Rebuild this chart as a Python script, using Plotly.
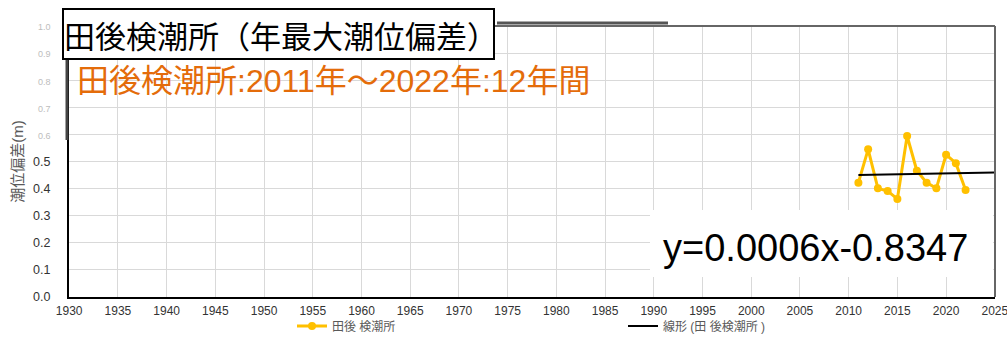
import plotly.graph_objects as go

# 田後検潮所 annual maximum tide deviation (m)
years = [2011, 2012, 2013, 2014, 2015, 2016, 2017, 2018, 2019, 2020, 2021, 2022]
deviation = [0.422, 0.545, 0.401, 0.391, 0.362, 0.594, 0.466, 0.422, 0.401, 0.525, 0.494, 0.395]

# linear trend (extended forward to 2025)
trend_slope = 0.000639
trend_intercept = -0.8347
trend_years = [2011, 2025]

x_ticks = list(range(1930, 2030, 5))
y_ticks = [0.0, 0.1, 0.2, 0.3, 0.4, 0.5, 0.6, 0.7, 0.8, 0.9, 1.0]
y_tick_labels = ["0.0", "0.1", "0.2", "0.3", "0.4", "0.5", "0.6", "0.7", "0.8", "0.9", "1.0"]

series_name = "田後 検潮所"
trend_name = "線形 (田 後検潮所 )"
title_text = "田後検潮所（年最大潮位偏差）"
period_text = "田後検潮所:2011年～2022年:12年間"
y_title = "潮位偏差(m)"

JP = "Liberation Sans, Noto Sans CJK JP, sans-serif"
ORANGE = "#FFC000"

trend_values = [trend_slope * yr + trend_intercept for yr in trend_years]
equation_text = f"y={trend_slope:.4f}x{trend_intercept:+.4f}"

# the upper tick labels are printed faint
faint = {"0.6", "0.7", "0.8", "0.9", "1.0"}
tick_text = [
    f"<span style='color:#bdbdbd;font-size:9px'>{t}</span>" if t in faint else t
    for t in y_tick_labels
]

fig = go.Figure()
fig.add_trace(go.Scatter(
    x=years, y=deviation, mode="lines+markers", name=series_name,
    line=dict(color=ORANGE, width=3),
    marker=dict(color=ORANGE, size=8),
))
fig.add_trace(go.Scatter(
    x=trend_years, y=trend_values, mode="lines", name=trend_name,
    line=dict(color="black", width=2),
))

W, H = 1007, 337
L, R, T, B = 69, 12, 26, 40
pw, ph = W - L - R, H - T - B


def px(x):
    return (x - L) / pw


def py(y):
    return (H - B - y) / ph


fig.update_layout(
    width=W, height=H,
    margin=dict(l=L, r=R, t=T, b=B, autoexpand=False),
    paper_bgcolor="white", plot_bgcolor="white",
    font=dict(family=JP, size=12, color="#404040"),
    showlegend=True,
    legend=dict(
        orientation="h", x=292 / W, xanchor="left", xref="container",
        y=1 - 326 / H, yanchor="middle", yref="container",
        font=dict(size=12, color="#595959", family=JP),
        entrywidth=286, entrywidthmode="pixels", itemwidth=30,
        bgcolor="rgba(0,0,0,0)",
    ),
    xaxis=dict(
        range=[1929.98, 2025.02], tickvals=x_ticks, ticktext=[str(v) for v in x_ticks],
        showgrid=True, gridcolor="#d9d9d9", gridwidth=1,
        showline=True, linecolor="black", linewidth=2,
        ticks="outside", ticklen=2, tickcolor="rgba(0,0,0,0)",
        tickfont=dict(size=12, color="#333333"),
        ticklabeloverflow="allow",
        zeroline=False, automargin=False,
    ),
    yaxis=dict(
        range=[0, 1.0], tickvals=y_ticks, ticktext=tick_text,
        showgrid=True, gridcolor="#d9d9d9", gridwidth=1,
        showline=True, linecolor="black", linewidth=2,
        ticks="outside", ticklen=14, tickcolor="rgba(0,0,0,0)",
        tickfont=dict(size=12.5, color="#333333"),
        ticklabeloverflow="allow",
        zeroline=False, automargin=False,
        title=dict(text=y_title, font=dict(size=15, color="#595959", family=JP), standoff=6),
    ),
)

# white panel holding the trend equation, then the frame on top
fig.add_shape(type="rect", xref="paper", yref="paper",
              x0=px(650), x1=px(993), y0=py(277), y1=py(210),
              fillcolor="white", line=dict(width=0), layer="above")
fig.add_shape(type="line", xref="paper", yref="paper",
              x0=0, x1=1, y0=1, y1=1, line=dict(color="#666666", width=2), layer="above")
fig.add_shape(type="line", xref="paper", yref="paper",
              x0=1, x1=1, y0=0, y1=1, line=dict(color="#666666", width=2), layer="above")
fig.add_shape(type="line", xref="paper", yref="paper",
              x0=px(67), x1=px(67), y0=py(140), y1=py(22),
              line=dict(color="#444444", width=3), layer="above")
fig.add_shape(type="line", xref="paper", yref="paper",
              x0=px(497), x1=px(668), y0=py(23), y1=py(23),
              line=dict(color="#555555", width=3), layer="above")

fig.add_annotation(
    xref="paper", yref="paper", x=px(815), y=py(248), xanchor="center", yanchor="middle",
    text=equation_text, showarrow=False,
    font=dict(family="Liberation Sans, Arial, sans-serif", size=38, color="black"),
)

# title box
fig.add_annotation(
    xref="paper", yref="paper", x=px(62), y=py(8), xanchor="left", yanchor="top",
    text=title_text, showarrow=False, align="left",
    width=429, height=48, borderpad=0,
    bgcolor="white", bordercolor="black", borderwidth=2,
    font=dict(family="Noto Sans CJK JP", size=31, color="black"),
)

# period caption
fig.add_annotation(
    xref="paper", yref="paper", x=px(75), y=py(81), xanchor="left", yanchor="middle",
    text=period_text, showarrow=False,
    font=dict(family=JP, size=32, color="#E46C0A"),
)

fig.write_html("out.html")
